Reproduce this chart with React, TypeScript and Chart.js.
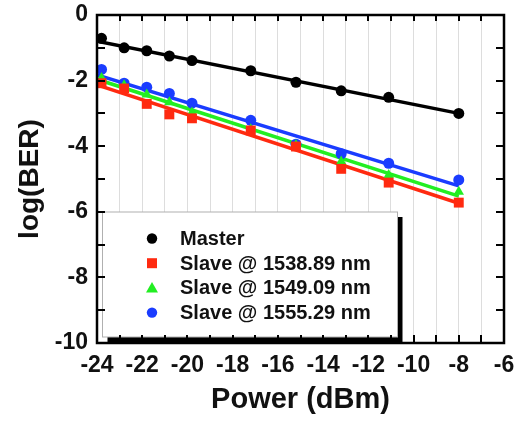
import React, { useEffect, useRef } from "react";
import { Chart, registerables } from "chart.js";

Chart.register(...registerables);

// ---- data ----
const powerDbm = [-23.8, -22.8, -21.8, -20.8, -19.8, -17.2, -15.2, -13.2, -11.1, -8];
const berMaster = [-0.71, -1.0, -1.09, -1.25, -1.39, -1.7, -2.05, -2.31, -2.51, -3.0];
const ber1538 = [-2.08, -2.24, -2.71, -3.03, -3.15, -3.52, -4.01, -4.69, -5.11, -5.72];
const ber1549 = [-1.92, -2.14, -2.42, -2.66, -2.97, -3.48, -3.96, -4.47, -4.88, -5.39];
const ber1555 = [-1.66, -2.08, -2.2, -2.39, -2.69, -3.21, -3.94, -4.23, -4.52, -5.03];

// linear-fit end points (x at -24 and -8)
const fitPower = [-24, -8];
const fitMaster = [-0.8, -3.0];
const fit1538 = [-2.13, -5.74];
const fit1549 = [-1.96, -5.52];
const fit1555 = [-1.83, -5.21];

const seriesLabels = ["Master", "Slave @ 1538.89 nm", "Slave @ 1549.09 nm", "Slave @ 1555.29 nm"];
const seriesColors = ["#000000", "#ff2a10", "#22ee22", "#1a3cff"];
const seriesStyles = ["circle", "rect", "triangle", "circle"];

const xMin = -24;
const xMax = -6;
const yMin = -10;
const yMax = 0;

const FONT = "'Liberation Sans', Arial, sans-serif";

function pts(xs: number[], ys: number[]) {
  return xs.map((x, i) => ({ x, y: ys[i] }));
}

function drawMarker(ctx: CanvasRenderingContext2D, style: string, x: number, y: number, color: string) {
  ctx.save();
  ctx.fillStyle = color;
  ctx.beginPath();
  if (style === "circle") {
    ctx.arc(x, y, 5.2, 0, Math.PI * 2);
  } else if (style === "rect") {
    ctx.rect(x - 5, y - 5, 10, 10);
  } else {
    ctx.moveTo(x, y - 6);
    ctx.lineTo(x + 6, y + 4.5);
    ctx.lineTo(x - 6, y + 4.5);
    ctx.closePath();
  }
  ctx.fill();
  ctx.restore();
}

const framePlugin = {
  id: "frameTicksLegend",
  afterDraw(chart: any) {
    const ctx: CanvasRenderingContext2D = chart.ctx;
    const { left, right, top, bottom } = chart.chartArea;
    const xs = chart.scales.x;
    const ys = chart.scales.y;

    // legend box with drop shadow
    const bx = 102.5, by = 212, bw = 295, bh = 125, sh = 5;
    ctx.save();
    ctx.fillStyle = "#000";
    ctx.fillRect(bx + sh, by + sh, bw, bh);
    ctx.fillStyle = "#fff";
    ctx.fillRect(bx, by, bw, bh);
    ctx.strokeStyle = "#b0b0b0";
    ctx.lineWidth = 1;
    ctx.strokeRect(bx, by, bw, bh);
    ctx.font = `bold 20px ${FONT}`;
    ctx.textBaseline = "middle";
    ctx.textAlign = "left";
    ctx.fillStyle = "#111";
    seriesLabels.forEach((lab, i) => {
      const yy = 238.5 + i * 24.7;
      drawMarker(ctx, seriesStyles[i], 152, yy, seriesColors[i]);
      ctx.fillStyle = "#111";
      ctx.fillText(lab, 180, yy + 1);
    });
    ctx.restore();

    // inward ticks on all four sides
    ctx.save();
    ctx.strokeStyle = "#000";
    ctx.lineWidth = 2;
    ctx.beginPath();
    for (let v = xMin + 1; v < xMax; v++) {
      const px = Math.round(xs.getPixelForValue(v));
      ctx.moveTo(px, bottom);
      ctx.lineTo(px, bottom - 8);
      ctx.moveTo(px, top);
      ctx.lineTo(px, top + 6);
    }
    for (let v = yMin + 1; v < yMax; v++) {
      const py = Math.round(ys.getPixelForValue(v));
      ctx.moveTo(left, py);
      ctx.lineTo(left + 8, py);
      ctx.moveTo(right, py);
      ctx.lineTo(right - 8, py);
    }
    ctx.stroke();
    // frame
    ctx.lineWidth = 2.5;
    ctx.strokeRect(left, top, right - left, bottom - top);
    ctx.restore();
  },
};

export default function App() {
  const ref = useRef<HTMLCanvasElement | null>(null);

  useEffect(() => {
    if (!ref.current) return;
    const mkPts = (ys: number[], i: number) => ({
      label: seriesLabels[i],
      data: pts(powerDbm, ys),
      showLine: false,
      pointStyle: seriesStyles[i],
      pointRadius: seriesStyles[i] === "rect" ? 7 : seriesStyles[i] === "triangle" ? 6 : 5.5,
      pointBackgroundColor: seriesColors[i],
      pointBorderColor: seriesColors[i],
      pointBorderWidth: 0,
      backgroundColor: seriesColors[i],
      borderColor: seriesColors[i],
      order: 0,
    });
    const mkFit = (ys: number[], i: number) => ({
      label: seriesLabels[i] + " fit",
      data: pts(fitPower, ys),
      showLine: true,
      pointRadius: 0,
      borderWidth: 3.5,
      borderColor: seriesColors[i],
      backgroundColor: seriesColors[i],
      fill: false,
      order: 1,
    });

    const chart = new Chart(ref.current, {
      type: "scatter",
      data: {
        datasets: [
          mkPts(berMaster, 0),
          mkPts(ber1538, 1),
          mkPts(ber1549, 2),
          mkPts(ber1555, 3),
          mkFit(fitMaster, 0),
          mkFit(fit1538, 1),
          mkFit(fit1549, 2),
          mkFit(fit1555, 3),
        ] as any,
      },
      options: {
        animation: false,
        responsive: true,
        maintainAspectRatio: false,
        layout: { padding: { left: 0, top: 15, right: 11, bottom: 0 } },
        plugins: { legend: { display: false }, tooltip: { enabled: false } },
        scales: {
          x: {
            type: "linear",
            min: xMin,
            max: xMax,
            afterFit: (s: any) => {
              s.height = 78;
              s.paddingLeft = 0;
              s.paddingRight = 0;
            },
            ticks: {
              stepSize: 1,
              autoSkip: false,
              maxRotation: 0,
              padding: 9,
              color: "#111",
              font: { family: FONT, size: 23, weight: "bold" },
              callback: (v: any) => (Number(v) % 2 === 0 ? String(v) : ""),
            },
            grid: { display: true, color: "#dddddd", lineWidth: 1, drawTicks: false },
            border: { display: false },
            title: {
              display: true,
              text: "Power (dBm)",
              color: "#111",
              font: { family: FONT, size: 29, weight: "bold" },
              padding: { top: 0, bottom: 4 },
            },
          },
          y: {
            type: "linear",
            min: yMin,
            max: yMax,
            afterFit: (s: any) => {
              s.width = 97;
              s.paddingTop = 0;
              s.paddingBottom = 0;
            },
            ticks: {
              stepSize: 2,
              padding: 9,
              color: "#111",
              font: { family: FONT, size: 23, weight: "bold" },
            },
            grid: { display: false, drawTicks: false },
            border: { display: false },
            title: {
              display: true,
              text: "log(BER)",
              color: "#111",
              font: { family: FONT, size: 28, weight: "bold" },
              padding: { top: 13, bottom: 0 },
            },
          },
        },
      } as any,
      plugins: [framePlugin],
    });
    return () => chart.destroy();
  }, []);

  return (
    <div style={{ position: "absolute", left: 0, top: 0, width: 515, height: 421, background: "#fff" }}>
      <canvas ref={ref} />
    </div>
  );
}
